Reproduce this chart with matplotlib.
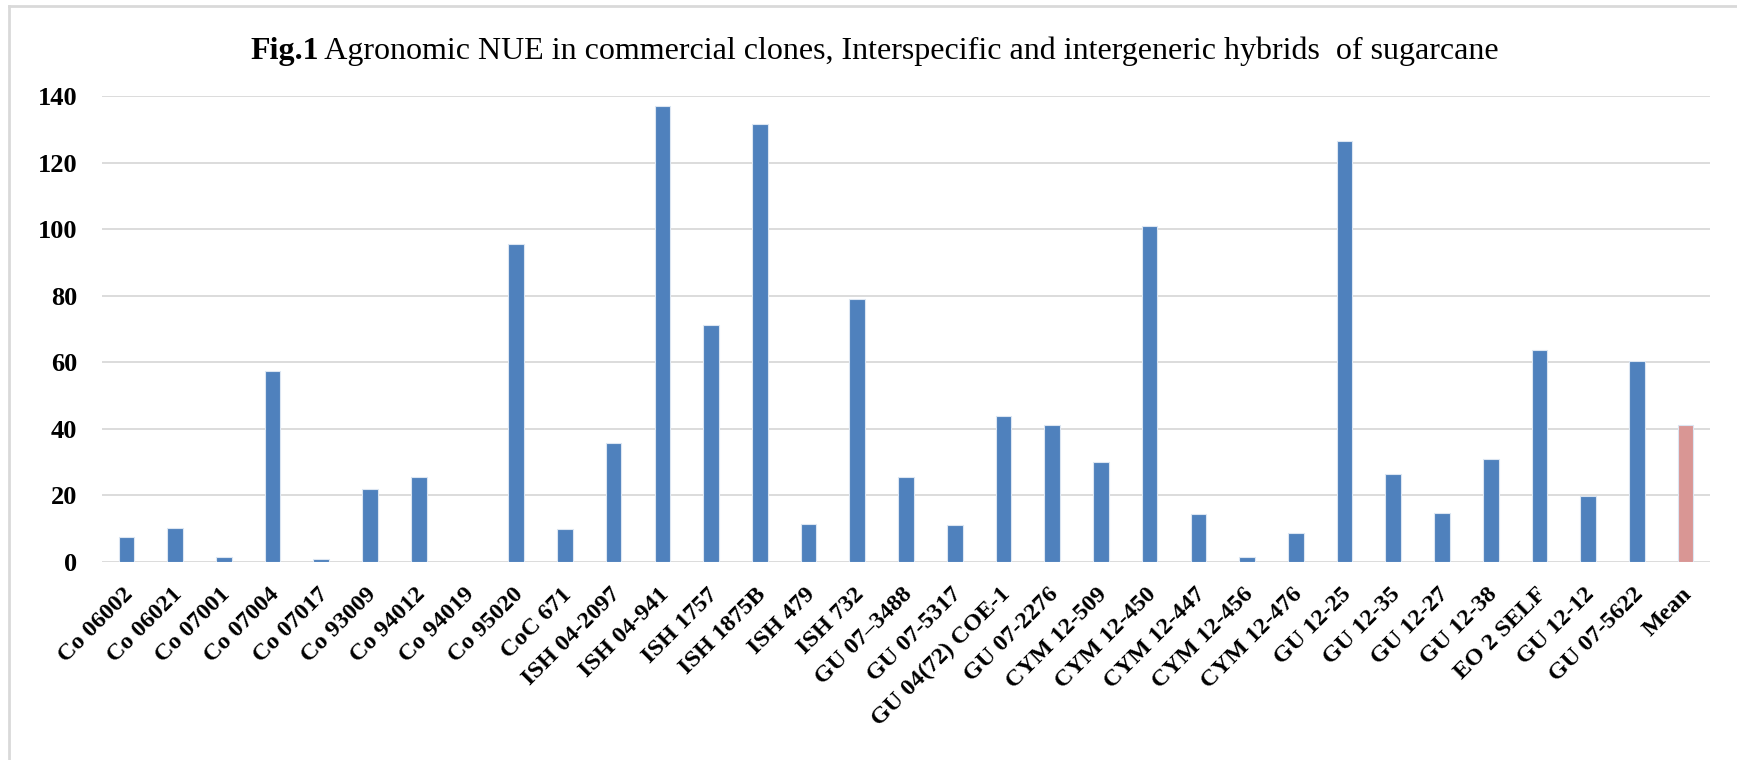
import matplotlib
matplotlib.use("Agg")
import matplotlib.pyplot as plt
from matplotlib.lines import Line2D
from matplotlib.transforms import ScaledTranslation

# Agronomic NUE per clone / hybrid (last entry is the overall mean)
clones = [
    "Co 06002", "Co 06021", "Co 07001", "Co 07004", "Co 07017", "Co 93009",
    "Co 94012", "Co 94019", "Co 95020", "CoC 671", "ISH 04-2097", "ISH 04-941",
    "ISH 1757", "ISH 1875B", "ISH 479", "ISH 732", "GU 07\u20133488", "GU 07-5317",
    "GU 04(72) COE-1", "GU 07-2276", "CYM 12-509", "CYM 12-450", "CYM 12-447",
    "CYM 12-456", "CYM 12-476", "GU 12-25", "GU 12-35", "GU 12-27", "GU 12-38",
    "EO 2 SELF", "GU 12-12", "GU 07-5622",
]
nue = [
    7.3, 10.0, 1.5, 57.4, 0.8, 22.0, 25.5, 0.0, 95.5, 9.7, 35.8, 137.0,
    71.2, 131.6, 11.2, 78.9, 25.5, 10.9, 43.9, 41.2, 30.1, 100.8, 14.3,
    1.5, 8.5, 126.6, 26.5, 14.7, 30.8, 63.5, 19.7, 60.4,
]
mean_label = "Mean"
mean_value = 41.2

y_ticks = [0, 20, 40, 60, 80, 100, 120, 140]

labels = clones + [mean_label]
values = nue + [mean_value]
colors = ["#4F81BD"] * len(clones) + ["#D99694"]

serif = ["Liberation Serif", "DejaVu Serif"]
plt.rcParams["font.family"] = serif

fig = plt.figure(figsize=(17.37, 7.60), dpi=100)
fig.patch.set_facecolor("white")

ax = fig.add_axes([102 / 1737, 1 - 561.7 / 760, 1608 / 1737, 465.7 / 760])
x = list(range(len(labels)))
ax.bar(x, values, width=0.32, color=colors, edgecolor="#dce6f2",
       linewidth=0.8, zorder=3)

ax.set_xlim(-0.5, len(labels) - 0.5)
ax.set_ylim(0, 140)
ax.set_yticks(y_ticks)
ax.set_yticklabels([str(v) for v in y_ticks], fontsize=19, fontweight="bold")
ax.set_xticks(x)
ax.set_xticklabels(labels, fontsize=17.5, fontweight="bold", rotation=45,
                   ha="right", va="top", rotation_mode="anchor")
ax.tick_params(axis="y", length=0, pad=18)
ax.tick_params(axis="x", length=0, pad=16)

# nudge the slanted category labels a little to the left of each bar
shift = ScaledTranslation(-4 / 100, 0, fig.dpi_scale_trans)
for lbl in ax.get_xticklabels():
    lbl.set_transform(lbl.get_transform() + shift)

ax.yaxis.grid(True, color="#d9d9d9", linewidth=1.3, zorder=0)
ax.set_axisbelow(True)
for s in ax.spines.values():
    s.set_visible(False)

# Title: bold figure number followed by regular caption
t1 = fig.text(250 / 1737, 1 - 59 / 760, "Fig.1", fontsize=23,
              fontweight="bold", ha="left", va="baseline")
ax.annotate(" Agronomic NUE in commercial clones, Interspecific and "
            "intergeneric hybrids  of sugarcane",
            xy=(1, 0), xycoords=t1, ha="left", va="bottom", fontsize=23,
            annotation_clip=False)

# Light frame along the top and left edges
fig.add_artist(Line2D([9 / 1737, 9 / 1737], [0, 1 - 6 / 760],
                      transform=fig.transFigure, color="#d9d9d9", linewidth=2))
fig.add_artist(Line2D([9 / 1737, 1], [1 - 6 / 760, 1 - 6 / 760],
                      transform=fig.transFigure, color="#d9d9d9", linewidth=2))

fig.savefig("out.png", dpi=100)
